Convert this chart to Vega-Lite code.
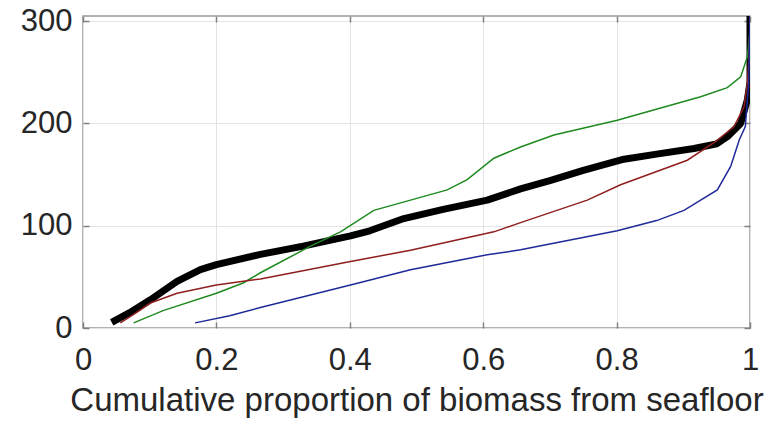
{
  "$schema": "https://vega.github.io/schema/vega-lite/v6.json",
  "width": 667,
  "height": 312,
  "autosize": {"type": "none"},
  "padding": {"left": 83, "top": 16, "right": 29, "bottom": 99},
  "background": "white",
  "config": {
    "view": {"stroke": "#999999", "strokeWidth": 1.5},
    "font": "Liberation Sans",
    "axis": {
      "labelFont": "Liberation Sans",
      "titleFont": "Liberation Sans",
      "labelFontSize": 31,
      "titleFontSize": 33,
      "labelColor": "#262626",
      "titleColor": "#262626",
      "titleFontWeight": "normal",
      "labelFlush": false,
      "domain": false,
      "tickColor": "#808080",
      "tickWidth": 1.5,
      "tickSize": -6,
      "gridColor": "#e3e3e3",
      "gridWidth": 1
    }
  },
  "data": {
    "values": [
      {"s": "black", "i": 1, "x": 0.043, "y": 5.5},
      {"s": "black", "i": 2, "x": 0.07, "y": 15},
      {"s": "black", "i": 3, "x": 0.101, "y": 27.6},
      {"s": "black", "i": 4, "x": 0.141, "y": 45.5},
      {"s": "black", "i": 5, "x": 0.176, "y": 57},
      {"s": "black", "i": 6, "x": 0.2, "y": 62},
      {"s": "black", "i": 7, "x": 0.266, "y": 72},
      {"s": "black", "i": 8, "x": 0.33, "y": 80},
      {"s": "black", "i": 9, "x": 0.401, "y": 90},
      {"s": "black", "i": 10, "x": 0.43, "y": 95},
      {"s": "black", "i": 11, "x": 0.481, "y": 107},
      {"s": "black", "i": 12, "x": 0.54, "y": 116},
      {"s": "black", "i": 13, "x": 0.606, "y": 125},
      {"s": "black", "i": 14, "x": 0.656, "y": 136},
      {"s": "black", "i": 15, "x": 0.7, "y": 144},
      {"s": "black", "i": 16, "x": 0.75, "y": 154},
      {"s": "black", "i": 17, "x": 0.811, "y": 165},
      {"s": "black", "i": 18, "x": 0.86, "y": 170},
      {"s": "black", "i": 19, "x": 0.916, "y": 175.5},
      {"s": "black", "i": 20, "x": 0.95, "y": 180},
      {"s": "black", "i": 21, "x": 0.966, "y": 187},
      {"s": "black", "i": 22, "x": 0.986, "y": 200},
      {"s": "black", "i": 23, "x": 0.996, "y": 223},
      {"s": "black", "i": 24, "x": 1.0, "y": 240},
      {"s": "black", "i": 25, "x": 1.0, "y": 305},
      {"s": "green", "i": 1, "x": 0.076, "y": 5},
      {"s": "green", "i": 2, "x": 0.12, "y": 17},
      {"s": "green", "i": 3, "x": 0.2, "y": 34},
      {"s": "green", "i": 4, "x": 0.24, "y": 44},
      {"s": "green", "i": 5, "x": 0.266, "y": 54},
      {"s": "green", "i": 6, "x": 0.341, "y": 80},
      {"s": "green", "i": 7, "x": 0.386, "y": 94},
      {"s": "green", "i": 8, "x": 0.436, "y": 115},
      {"s": "green", "i": 9, "x": 0.491, "y": 125},
      {"s": "green", "i": 10, "x": 0.546, "y": 135},
      {"s": "green", "i": 11, "x": 0.576, "y": 145},
      {"s": "green", "i": 12, "x": 0.616, "y": 166},
      {"s": "green", "i": 13, "x": 0.656, "y": 177},
      {"s": "green", "i": 14, "x": 0.706, "y": 188.6},
      {"s": "green", "i": 15, "x": 0.801, "y": 203},
      {"s": "green", "i": 16, "x": 0.926, "y": 226},
      {"s": "green", "i": 17, "x": 0.966, "y": 235},
      {"s": "green", "i": 18, "x": 0.986, "y": 245.5},
      {"s": "green", "i": 19, "x": 0.996, "y": 265},
      {"s": "green", "i": 20, "x": 1.0, "y": 290},
      {"s": "green", "i": 21, "x": 1.0, "y": 305},
      {"s": "red", "i": 1, "x": 0.056, "y": 5},
      {"s": "red", "i": 2, "x": 0.08, "y": 15},
      {"s": "red", "i": 3, "x": 0.101, "y": 24.4},
      {"s": "red", "i": 4, "x": 0.141, "y": 34},
      {"s": "red", "i": 5, "x": 0.2, "y": 42},
      {"s": "red", "i": 6, "x": 0.266, "y": 48},
      {"s": "red", "i": 7, "x": 0.401, "y": 65},
      {"s": "red", "i": 8, "x": 0.491, "y": 76},
      {"s": "red", "i": 9, "x": 0.616, "y": 94},
      {"s": "red", "i": 10, "x": 0.656, "y": 103},
      {"s": "red", "i": 11, "x": 0.756, "y": 125},
      {"s": "red", "i": 12, "x": 0.806, "y": 140},
      {"s": "red", "i": 13, "x": 0.906, "y": 164},
      {"s": "red", "i": 14, "x": 0.95, "y": 183},
      {"s": "red", "i": 15, "x": 0.976, "y": 197},
      {"s": "red", "i": 16, "x": 0.991, "y": 216},
      {"s": "red", "i": 17, "x": 0.996, "y": 239},
      {"s": "red", "i": 18, "x": 0.999, "y": 270},
      {"s": "red", "i": 19, "x": 1.0, "y": 305},
      {"s": "blue", "i": 1, "x": 0.168, "y": 5},
      {"s": "blue", "i": 2, "x": 0.22, "y": 12},
      {"s": "blue", "i": 3, "x": 0.266, "y": 20},
      {"s": "blue", "i": 4, "x": 0.401, "y": 42},
      {"s": "blue", "i": 5, "x": 0.491, "y": 57},
      {"s": "blue", "i": 6, "x": 0.606, "y": 71.5},
      {"s": "blue", "i": 7, "x": 0.656, "y": 76.4},
      {"s": "blue", "i": 8, "x": 0.801, "y": 95},
      {"s": "blue", "i": 9, "x": 0.86, "y": 105},
      {"s": "blue", "i": 10, "x": 0.901, "y": 115},
      {"s": "blue", "i": 11, "x": 0.926, "y": 125},
      {"s": "blue", "i": 12, "x": 0.951, "y": 135},
      {"s": "blue", "i": 13, "x": 0.971, "y": 158},
      {"s": "blue", "i": 14, "x": 0.984, "y": 184},
      {"s": "blue", "i": 15, "x": 0.993, "y": 197},
      {"s": "blue", "i": 16, "x": 0.998, "y": 240},
      {"s": "blue", "i": 17, "x": 1.0, "y": 305}
    ]
  },
  "layer": [
    {
      "transform": [{"filter": "datum.s === 'black'"}],
      "mark": {"type": "line", "color": "#000000", "strokeWidth": 7, "clip": true, "strokeJoin": "round"},
      "encoding": {
        "x": {"field": "x", "type": "quantitative",
              "scale": {"domain": [0, 1], "nice": false},
              "axis": {"orient": "bottom", "values": [0, 0.2, 0.4, 0.6, 0.8, 1], "format": "~g",
                       "title": "Cumulative proportion of biomass from seafloor",
                       "labelPadding": 23, "titlePadding": 9, "grid": true}},
        "y": {"field": "y", "type": "quantitative",
              "scale": {"domain": [0, 305], "nice": false},
              "axis": {"orient": "left", "values": [0, 100, 200, 300], "title": null,
                       "labelPadding": 17, "grid": true}},
        "order": {"field": "i", "type": "quantitative"}
      }
    },
    {
      "transform": [{"filter": "datum.s !== 'black'"}],
      "mark": {"type": "line", "strokeWidth": 1.5, "clip": true},
      "encoding": {
        "x": {"field": "x", "type": "quantitative",
              "scale": {"domain": [0, 1], "nice": false},
              "axis": {"orient": "top", "values": [0, 0.2, 0.4, 0.6, 0.8, 1], "labels": false, "title": null, "grid": false}},
        "y": {"field": "y", "type": "quantitative",
              "scale": {"domain": [0, 305], "nice": false},
              "axis": {"orient": "right", "values": [0, 100, 200, 300], "labels": false, "title": null, "grid": false}},
        "color": {"field": "s", "type": "nominal",
                  "scale": {"domain": ["green", "red", "blue"], "range": ["#1f8a1f", "#8f1f1f", "#1f2a9a"]},
                  "legend": null},
        "order": {"field": "i", "type": "quantitative"}
      }
    }
  ],
  "resolve": {"axis": {"x": "independent", "y": "independent"}}
}
